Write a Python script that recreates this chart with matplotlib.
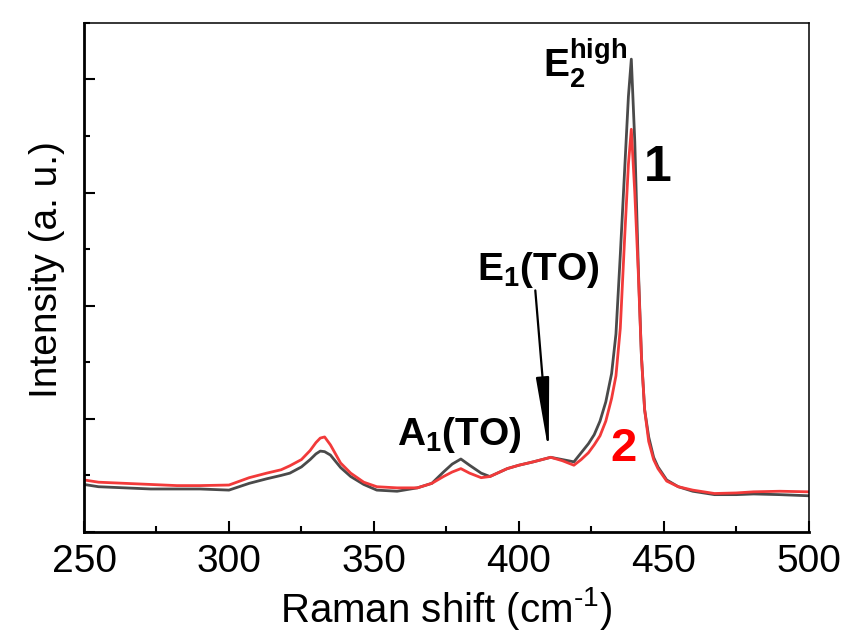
import numpy as np
import matplotlib
matplotlib.use("Agg")
import matplotlib.pyplot as plt
from matplotlib.ticker import MultipleLocator, NullFormatter

# ==================================================
# DATA
# ==================================================

raman_shift = [250, 255, 264, 273, 282, 290, 300, 307, 313, 318, 321, 325,
               328, 330, 331.5, 333, 335, 338.5, 342, 346.5, 351, 358, 365,
               370, 374, 377, 380, 383, 387, 390, 396, 400, 405, 411, 415,
               419, 421.5, 424, 426, 428, 430, 432, 433.5, 435, 436.5, 437.8,
               438.8, 440, 441.2, 442.3, 443.4, 444.8, 446.5, 448, 451, 455,
               460, 467.5, 475, 481, 490, 500]

intensity_1 = [0.42, 0.40, 0.39, 0.38, 0.38, 0.38, 0.37, 0.43, 0.47, 0.50,
               0.52, 0.575, 0.64, 0.69, 0.715, 0.71, 0.68, 0.57, 0.49, 0.42,
               0.37, 0.36, 0.39, 0.43, 0.53, 0.60, 0.645, 0.59, 0.52, 0.49,
               0.56, 0.59, 0.62, 0.66, 0.64, 0.62, 0.70, 0.78, 0.86, 0.98,
               1.15, 1.40, 1.75, 2.45, 3.2, 3.85, 4.18, 3.45, 2.35, 1.55,
               1.08, 0.84, 0.66, 0.575, 0.46, 0.40, 0.36, 0.33, 0.33, 0.336,
               0.33, 0.32]

intensity_2 = [0.46, 0.44, 0.43, 0.42, 0.41, 0.41, 0.415, 0.48, 0.52, 0.55,
               0.585, 0.64, 0.72, 0.79, 0.83, 0.84, 0.77, 0.61, 0.52, 0.44,
               0.40, 0.39, 0.39, 0.43, 0.49, 0.53, 0.56, 0.52, 0.48, 0.49,
               0.56, 0.59, 0.62, 0.66, 0.63, 0.59, 0.64, 0.70, 0.77, 0.85,
               0.98, 1.18, 1.38, 1.8, 2.6, 3.25, 3.56, 3.0, 2.3, 1.55, 1.08,
               0.80, 0.64, 0.56, 0.45, 0.40, 0.37, 0.34, 0.345, 0.355, 0.36,
               0.355]

x_ticks = [250, 300, 350, 400, 450, 500]

# ==================================================
# STYLE
# ==================================================

plt.rcParams['font.family'] = ['Liberation Sans', 'DejaVu Sans']
plt.rcParams['mathtext.fontset'] = 'custom'
plt.rcParams['mathtext.rm'] = 'Liberation Sans'
plt.rcParams['mathtext.it'] = 'Liberation Sans:italic'
plt.rcParams['mathtext.bf'] = 'Liberation Sans:bold'

# ==================================================
# PLOT
# ==================================================

fig = plt.figure(figsize=(8.47, 6.39), dpi=100)
ax = fig.add_axes([0.0992, 0.1675, 0.8556, 0.7966])

ax.plot(raman_shift, intensity_1, color='#4a4a4a', lw=2.0)
ax.plot(raman_shift, intensity_2, color='#f23a3a', lw=2.0)

ax.set_xlim(250, 500)
ax.set_ylim(0, 4.5)

ax.set_xticks(x_ticks)
ax.xaxis.set_minor_locator(MultipleLocator(25))
ax.yaxis.set_major_locator(MultipleLocator(1))
ax.yaxis.set_minor_locator(MultipleLocator(0.5))
ax.yaxis.set_major_formatter(NullFormatter())

ax.tick_params(which='both', direction='in', top=False, right=False,
               width=1.5, labelsize=28, pad=9)
ax.tick_params(which='major', length=8)
ax.tick_params(which='minor', length=4.5)

for side in ['left', 'bottom']:
    ax.spines[side].set_linewidth(2.0)
for side in ['top', 'right']:
    ax.spines[side].set_linewidth(1.1)

ax.set_xlabel(r'Raman shift (cm$^{\text{-}1}$)', fontsize=29)
ax.set_ylabel('Intensity (a. u.)', fontsize=28)
ax.xaxis.set_label_coords(0.5, -0.105)
ax.yaxis.set_label_coords(-0.026, 0.515)

# peak labels
ax.text(0.633, 0.894, r'$\mathbf{E_2^{high}}$', transform=ax.transAxes,
        fontsize=28, ha='left', va='baseline')
ax.text(0.432, 0.171, r'$\mathbf{A_1(TO)}$', transform=ax.transAxes,
        fontsize=28, ha='left', va='baseline')
ax.text(0.542, 0.495, r'$\mathbf{E_1(TO)}$', transform=ax.transAxes,
        fontsize=28, ha='left', va='baseline')

ax.annotate('', xy=(410.4, 0.68), xytext=(405.6, 2.16),
            arrowprops=dict(arrowstyle='-|>,head_length=4.5,head_width=0.4',
                            color='black', lw=1.6))

ax.text(0.792, 0.715, '1', transform=ax.transAxes, fontsize=36,
        fontweight='bold', color='black', ha='center', va='center')
ax.text(0.744, 0.163, '2', transform=ax.transAxes, fontsize=34,
        fontweight='bold', color='red', ha='center', va='center')

plt.savefig('out.png', dpi=100)
